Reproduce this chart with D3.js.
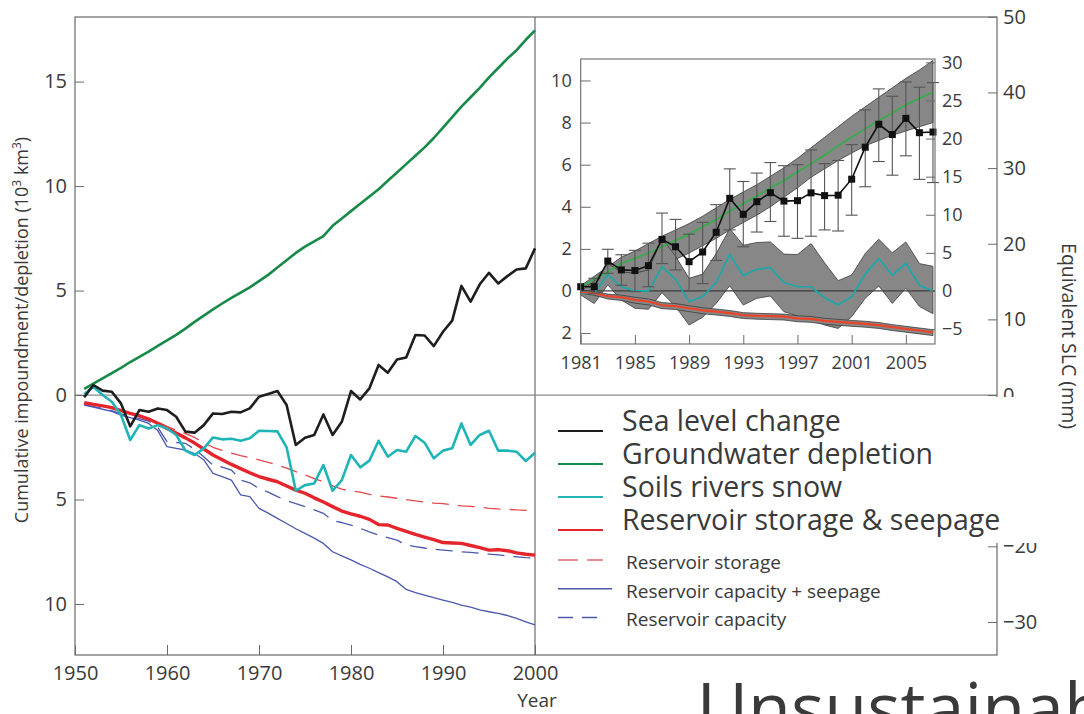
<!DOCTYPE html>
<html>
<head>
<meta charset="utf-8">
<script src="https://cdn.jsdelivr.net/npm/d3@7.9.0/dist/d3.min.js"></script>
<style>
  html, body { margin: 0; padding: 0; background: #fff; }
  svg { display: block; }
  text { font-family: "Open Sans", "Noto Sans", sans-serif; fill: #3a3a3a; }
</style>
</head>
<body>
<div id="chart"></div>
<script>
// ---- main panel data (10^3 km3, 1951-2000; impoundment negative) ----
const mainYears = d3.range(1951, 2001);
const seaLevel = [-0.11, 0.48, 0.21, 0.16, -0.4, -1.5, -0.72, -0.8, -0.64, -0.72,
  -1.04, -1.75, -1.8, -1.44, -0.88, -0.91, -0.8, -0.83, -0.64, -0.08,
  0.05, 0.19, -0.48, -2.39, -2.04, -1.91, -0.93, -1.91, -1.28, 0.19,
  -0.21, 0.32, 1.44, 1.07, 1.7, 1.8, 2.87, 2.85, 2.34, 3.03,
  3.56, 5.22, 4.47, 5.3, 5.85, 5.34, 5.69, 6.01, 6.06, 7.02];
const groundwater = [0.3, 0.55, 0.8, 1.05, 1.3, 1.58, 1.83, 2.08, 2.35, 2.62,
  2.88, 3.18, 3.5, 3.8, 4.1, 4.38, 4.65, 4.9, 5.15, 5.45,
  5.75, 6.1, 6.45, 6.8, 7.1, 7.35, 7.6, 8.1, 8.45, 8.8,
  9.15, 9.5, 9.85, 10.25, 10.65, 11.05, 11.45, 11.85, 12.3, 12.8,
  13.3, 13.8, 14.25, 14.7, 15.2, 15.65, 16.1, 16.5, 17.0, 17.45];
const soilsRivers = [0.05, 0.4, 0.0, -0.32, -0.96, -2.15, -1.44, -1.6, -1.44, -1.6,
  -1.91, -2.66, -2.87, -2.55, -2.03, -2.12, -2.09, -2.19, -2.07, -1.71,
  -1.72, -1.74, -2.5, -4.58, -4.31, -4.23, -3.35, -4.58, -4.07, -2.87,
  -3.46, -3.14, -2.19, -2.95, -2.63, -2.71, -1.96, -2.28, -3.03, -2.66,
  -2.55, -1.36, -2.39, -1.91, -1.71, -2.66, -2.66, -2.71, -3.16, -2.76];
const resStorageSeepage = [-0.37, -0.45, -0.52, -0.6, -0.75, -0.88, -1.0, -1.15, -1.35, -1.6,
  -1.82, -2.05, -2.3, -2.58, -2.87, -3.1, -3.32, -3.52, -3.72, -3.9,
  -4.03, -4.15, -4.35, -4.55, -4.7, -4.92, -5.12, -5.34, -5.55, -5.69,
  -5.8, -5.95, -6.2, -6.22, -6.38, -6.52, -6.67, -6.8, -6.92, -7.06,
  -7.08, -7.1, -7.2, -7.3, -7.42, -7.4, -7.45, -7.55, -7.62, -7.66];
const resStorage = [-0.37, -0.45, -0.52, -0.6, -0.72, -0.85, -0.97, -1.1, -1.3, -1.5,
  -1.68, -1.85, -2.03, -2.28, -2.5, -2.65, -2.78, -2.9, -3.0, -3.1,
  -3.22, -3.35, -3.5, -3.67, -3.82, -4.0, -4.15, -4.35, -4.5, -4.58,
  -4.65, -4.75, -4.83, -4.88, -4.94, -5.0, -5.06, -5.12, -5.17, -5.2,
  -5.25, -5.3, -5.33, -5.37, -5.42, -5.45, -5.47, -5.5, -5.52, -5.53];
const resCapSeepage = [-0.48, -0.58, -0.68, -0.78, -0.96, -1.08, -1.2, -1.36, -1.7, -2.47,
  -2.55, -2.63, -2.8, -3.1, -3.75, -3.9, -4.07, -4.78, -4.86, -5.42,
  -5.65, -5.9, -6.15, -6.4, -6.62, -6.85, -7.1, -7.5, -7.7, -7.89,
  -8.1, -8.29, -8.5, -8.7, -8.93, -9.3, -9.45, -9.57, -9.7, -9.81,
  -9.92, -10.05, -10.15, -10.28, -10.37, -10.45, -10.55, -10.69, -10.85, -11.0];
const resCapacity = [-0.45, -0.55, -0.65, -0.75, -0.9, -1.02, -1.13, -1.25, -1.55, -2.23,
  -2.27, -2.31, -2.6, -2.95, -3.35, -3.45, -3.59, -4.07, -4.2, -4.47,
  -4.65, -4.86, -5.05, -5.2, -5.34, -5.5, -5.66, -6.01, -6.1, -6.22,
  -6.38, -6.55, -6.7, -6.82, -6.94, -7.18, -7.25, -7.32, -7.38, -7.42,
  -7.46, -7.5, -7.53, -7.57, -7.61, -7.65, -7.7, -7.74, -7.78, -7.81];

// ---- inset data (10^3 km3, 1981-2007) ----
const insetYears = d3.range(1981, 2008);
const insSea = [0.2, 0.2, 1.42, 1.0, 0.97, 1.2, 2.45, 2.1, 1.39, 1.85, 2.79, 4.4, 3.64, 4.24,
  4.67, 4.27, 4.29, 4.66, 4.53, 4.55, 5.31, 6.83, 7.92, 7.43, 8.2, 7.52, 7.55];
const insSeaHi = [null, 0.6, 1.98, 1.72, 1.93, 2.27, 3.7, 3.4, 2.7, 3.26, 4.1, 5.8, 5.2, 5.6,
  6.1, 5.95, 6.0, 6.7, 6.05, 6.2, 6.95, 8.6, 9.6, 9.25, 9.93, 9.68, 9.9];
const insSeaLo = [null, -0.1, 0.84, 0.27, -0.03, 0.2, 1.3, 1.0, 0.0, 0.35, 1.45, 2.9, 2.1, 2.8,
  3.3, 2.6, 2.5, 2.6, 2.9, 2.85, 3.6, 4.95, 6.15, 5.5, 6.42, 5.3, 5.15];
const insGw = [0.2, 0.55, 0.9, 1.3, 1.55, 1.8, 2.1, 2.4, 2.7, 3.05, 3.4, 3.8, 4.15, 4.5,
  4.9, 5.25, 5.65, 6.05, 6.45, 6.9, 7.3, 7.7, 8.1, 8.45, 8.85, 9.15, 9.45];
const insGwHi = [0.25, 0.7, 1.15, 1.6, 1.9, 2.25, 2.6, 2.9, 3.2, 3.55, 3.95, 4.35, 4.7, 5.05,
  5.45, 5.85, 6.3, 6.8, 7.3, 7.8, 8.3, 8.75, 9.2, 9.65, 10.1, 10.5, 10.95];
const insGwLo = [0.15, 0.4, 0.7, 0.85, 0.85, 0.95, 1.2, 1.5, 1.8, 2.15, 2.5, 2.9, 3.25, 3.6,
  4.0, 4.45, 4.9, 5.4, 5.8, 6.2, 6.55, 6.9, 7.15, 7.4, 7.6, 7.8, 8.0];
const insSoil = [-0.1, -0.12, 0.78, 0.2, 0.0, 0.0, 1.15, 0.55, -0.5, -0.27, 0.4, 1.74, 0.73, 1.03,
  1.11, 0.4, 0.2, 0.2, -0.32, -0.67, -0.27, 0.8, 1.54, 0.75, 1.31, 0.27, 0.0];
const insSoilHi = [0.0, 0.45, 1.3, 0.9, 0.85, 1.0, 2.5, 1.65, 0.6, 0.8, 1.78, 2.96, 2.17, 2.3,
  2.33, 1.75, 1.73, 2.25, 1.34, 0.49, 0.76, 1.78, 2.46, 1.81, 2.33, 1.3, 1.17];
const insSoilLo = [-0.19, -0.6, 0.29, -0.43, -0.82, -0.87, -0.08, -0.74, -1.62, -1.25, -0.59, 0.25, -0.67, -0.35,
  -0.24, -0.99, -1.19, -1.35, -1.62, -1.78, -1.22, -0.35, 0.24, -0.59, 0.13, -0.74, -1.08];
const insRes = [-0.05, -0.1, -0.25, -0.3, -0.42, -0.5, -0.68, -0.72, -0.82, -0.92, -0.98, -1.05, -1.15, -1.18,
  -1.2, -1.22, -1.3, -1.33, -1.42, -1.47, -1.52, -1.56, -1.62, -1.72, -1.8, -1.88, -1.97];
const insResHi = [0.02, -0.02, -0.15, -0.2, -0.3, -0.38, -0.55, -0.6, -0.7, -0.8, -0.86, -0.93, -1.03, -1.06,
  -1.08, -1.1, -1.18, -1.21, -1.3, -1.35, -1.4, -1.44, -1.5, -1.6, -1.68, -1.76, -1.84];
const insResLo = [-0.12, -0.2, -0.38, -0.45, -0.58, -0.66, -0.84, -0.88, -0.98, -1.08, -1.14, -1.21, -1.31, -1.34,
  -1.36, -1.38, -1.46, -1.49, -1.58, -1.63, -1.68, -1.72, -1.78, -1.88, -1.96, -2.04, -2.12];

// ---- ticks / labels ----
const mainXTicks = [1950, 1960, 1970, 1980, 1990, 2000];
const mainYTicks = [15, 10, 5, 0, -5, -10];
const mainSlcTicks = [50, 40, 30, 20, 10, 0, -20, -30]; // -10 sits under the legend panel
const insetXTicks = [1981, 1985, 1989, 1993, 1997, 2001, 2005];
const insetYTicks = [10, 8, 6, 4, 2, 0, -2];
const insetSlcTicks = [30, 25, 20, 15, 10, 5, 0, -5];
const KM3_PER_MM = 0.362; // 10^3 km3 per mm of sea level

const bigLegend = [
  { label: "Sea level change", color: "#1e1e1e" },
  { label: "Groundwater depletion", color: "#178a48" },
  { label: "Soils rivers snow", color: "#1fb4b6" },
  { label: "Reservoir storage & seepage", color: "#e6242b" }
];
const smallLegend = [
  { label: "Reservoir storage", color: "#e26a6e", dash: "20,9", len: 45 },
  { label: "Reservoir capacity + seepage", color: "#4b58ad", dash: null, len: 54 },
  { label: "Reservoir capacity", color: "#4b58ad", dash: "15,9", len: 45 }
];

const width = 1084, height = 714;
const svg = d3.select("#chart").append("svg")
  .attr("width", width).attr("height", height)
  .attr("viewBox", `0 0 ${width} ${height}`);

const frame = { left: 75, top: 17, right: 997, bottom: 655, split: 535 };
const axisCol = "#6a6a6a";

const x = d3.scaleLinear().domain([1950, 2000]).range([frame.left, frame.split]);
const y = d3.scaleLinear().domain([-12.44, 18.09]).range([frame.bottom, frame.top]);
const ySlc = d3.scaleLinear().domain(y.domain().map(v => v / KM3_PER_MM)).range(y.range());

function styleAxis(g, size) {
  g.select(".domain").remove();
  g.selectAll(".tick line").attr("stroke", axisCol).attr("stroke-width", 1);
  g.selectAll(".tick text").attr("font-size", size).attr("fill", "#3a3a3a")
    .attr("font-family", '"Open Sans", sans-serif');
}

// === Frame ===
const fr = svg.append("g").attr("fill", "none").attr("stroke", axisCol).attr("stroke-width", 1.2);
fr.append("rect")
  .attr("x", frame.left).attr("y", frame.top)
  .attr("width", frame.right - frame.left).attr("height", frame.bottom - frame.top);
fr.append("line").attr("x1", frame.split).attr("x2", frame.split)
  .attr("y1", frame.top).attr("y2", frame.bottom);
fr.append("line").attr("x1", frame.left).attr("x2", frame.right)
  .attr("y1", y(0)).attr("y2", y(0)).attr("stroke", "#8a8a8a");

// === Main axes ===
svg.append("g").attr("transform", `translate(${frame.left},0)`)
  .call(d3.axisLeft(y).tickValues(mainYTicks).tickFormat(d => Math.abs(d)).tickSize(-9).tickPadding(8))
  .call(g => styleAxis(g, 20));
svg.append("g").attr("transform", `translate(0,${frame.bottom})`)
  .call(d3.axisBottom(x).tickValues(mainXTicks).tickFormat(d3.format("d")).tickSize(-10).tickPadding(11))
  .call(g => styleAxis(g, 20));
svg.append("g").attr("transform", `translate(${frame.right},0)`)
  .call(d3.axisRight(ySlc).tickValues(mainSlcTicks).tickSize(-9).tickPadding(6))
  .call(g => styleAxis(g, 20));

svg.append("text")
  .attr("transform", `translate(28,${(frame.top + frame.bottom) / 2 - 6}) rotate(-90)`)
  .attr("text-anchor", "middle").attr("font-size", 18)
  .call(t => {
    t.append("tspan").text("Cumulative impoundment/depletion (10");
    t.append("tspan").attr("font-size", 12).attr("dy", -7).text("3");
    t.append("tspan").attr("dy", 7).text(" km");
    t.append("tspan").attr("font-size", 12).attr("dy", -7).text("3");
    t.append("tspan").attr("dy", 7).text(")");
  });

svg.append("text").attr("x", 537).attr("y", 707)
  .attr("text-anchor", "middle").attr("font-size", 19).text("Year");

svg.append("text")
  .attr("transform", "translate(1062,336) rotate(90)")
  .attr("text-anchor", "middle").attr("font-size", 19.5).text("Equivalent SLC (mm)");

// === Main series ===
const mainLine = d3.line().x((d, i) => x(mainYears[i])).y(d => y(d));
const mainSeries = [
  { data: resCapSeepage, color: "#4b58ad", w: 1.3, dash: null },
  { data: resCapacity, color: "#4b58ad", w: 1.3, dash: "17,9" },
  { data: resStorage, color: "#e2474b", w: 1.3, dash: "17,9" },
  { data: resStorageSeepage, color: "#e6242b", w: 3.4, dash: null },
  { data: soilsRivers, color: "#1fb4b6", w: 2.6, dash: null },
  { data: groundwater, color: "#178a48", w: 2.6, dash: null },
  { data: seaLevel, color: "#1e1e1e", w: 2.6, dash: null }
];
svg.append("g").selectAll("path").data(mainSeries).join("path")
  .attr("d", d => mainLine(d.data))
  .attr("fill", "none")
  .attr("stroke", d => d.color)
  .attr("stroke-width", d => d.w)
  .attr("stroke-dasharray", d => d.dash)
  .attr("stroke-linejoin", "round");

// === Inset ===
const inset = { left: 580.7, right: 935, top: 59, bottom: 344 };
const xIn = d3.scaleLinear().domain([1981, 2007.15]).range([inset.left, inset.right]);
const yIn = d3.scaleLinear().domain([-2.52, 11.02]).range([inset.bottom, inset.top]);
const yInSlc = d3.scaleLinear().domain(yIn.domain().map(v => v / KM3_PER_MM)).range(yIn.range());

svg.append("rect")
  .attr("x", inset.left).attr("y", inset.top)
  .attr("width", inset.right - inset.left).attr("height", inset.bottom - inset.top)
  .attr("fill", "#fff");

const band = d3.area().x((d, i) => xIn(insetYears[i])).y0(d => yIn(d[0])).y1(d => yIn(d[1]));
const bands = [
  insGwLo.map((v, i) => [v, insGwHi[i]]),
  insSoilLo.map((v, i) => [v, insSoilHi[i]]),
  insResLo.map((v, i) => [v, insResHi[i]])
];
svg.append("g").selectAll("path").data(bands).join("path")
  .attr("d", band)
  .attr("fill", "#878787").attr("stroke", "#3c3c3c").attr("stroke-width", 0.8);

svg.append("line")
  .attr("x1", inset.left).attr("x2", inset.right)
  .attr("y1", yIn(0)).attr("y2", yIn(0))
  .attr("stroke", "#3c3c3c").attr("stroke-width", 1.2);

const inLine = d3.line().x((d, i) => xIn(insetYears[i])).y(d => yIn(d));
const insetSeries = [
  { data: insGw, color: "#35ad4b", w: 1.7 },
  { data: insSoil, color: "#1aa9aa", w: 1.7 },
  { data: insRes, color: "#e8452a", w: 2.2 }
];
svg.append("g").selectAll("path").data(insetSeries).join("path")
  .attr("d", d => inLine(d.data))
  .attr("fill", "none").attr("stroke", d => d.color).attr("stroke-width", d => d.w);

// error bars
const errs = insetYears.map((yr, i) => ({ yr, hi: insSeaHi[i], lo: insSeaLo[i] }))
  .filter(d => d.hi !== null);
const eb = svg.append("g").attr("stroke", "#555").attr("stroke-width", 1.1);
eb.selectAll("line.v").data(errs).join("line").attr("class", "v")
  .attr("x1", d => xIn(d.yr)).attr("x2", d => xIn(d.yr))
  .attr("y1", d => yIn(d.hi)).attr("y2", d => yIn(d.lo));
eb.selectAll("line.h").data(errs).join("line").attr("class", "h")
  .attr("x1", d => xIn(d.yr) - 6).attr("x2", d => xIn(d.yr) + 6)
  .attr("y1", d => yIn(d.hi)).attr("y2", d => yIn(d.hi));
eb.selectAll("line.l").data(errs).join("line").attr("class", "l")
  .attr("x1", d => xIn(d.yr) - 6).attr("x2", d => xIn(d.yr) + 6)
  .attr("y1", d => yIn(d.lo)).attr("y2", d => yIn(d.lo));

svg.append("path").attr("d", inLine(insSea))
  .attr("fill", "none").attr("stroke", "#111").attr("stroke-width", 1.6);
svg.append("g").selectAll("rect").data(insSea).join("rect")
  .attr("x", (d, i) => xIn(insetYears[i]) - 3.5)
  .attr("y", d => yIn(d) - 3.5)
  .attr("width", 7).attr("height", 7).attr("fill", "#111");

svg.append("rect")
  .attr("x", inset.left).attr("y", inset.top)
  .attr("width", inset.right - inset.left).attr("height", inset.bottom - inset.top)
  .attr("fill", "none").attr("stroke", axisCol).attr("stroke-width", 1.1);

svg.append("g").attr("transform", `translate(${inset.left},0)`)
  .call(d3.axisLeft(yIn).tickValues(insetYTicks).tickFormat(d => Math.abs(d)).tickSize(-10).tickPadding(9))
  .call(g => styleAxis(g, 18));
svg.append("g").attr("transform", `translate(0,${inset.bottom})`)
  .call(d3.axisBottom(xIn).tickValues(insetXTicks).tickFormat(d3.format("d")).tickSize(-9).tickPadding(12))
  .call(g => styleAxis(g, 18));
svg.append("g").attr("transform", `translate(${inset.right},0)`)
  .call(d3.axisRight(yInSlc).tickValues(insetSlcTicks).tickSize(-9).tickPadding(7))
  .call(g => styleAxis(g, 18));

// === Legends (white panel pasted over the right axis) ===
svg.append("rect").attr("x", 540).attr("y", 397).attr("width", 505).attr("height", 146)
  .attr("fill", "#fff");

const bl = svg.append("g").selectAll("g").data(bigLegend).join("g")
  .attr("transform", (d, i) => `translate(558,${431 + i * 33})`);
bl.append("line").attr("x1", 0).attr("x2", 45).attr("y1", 0).attr("y2", 0)
  .attr("stroke", d => d.color).attr("stroke-width", 1.8);
bl.append("text").attr("x", 64).attr("y", 0)
  .attr("font-family", '"Liberation Sans", Arial, sans-serif')
  .attr("font-size", 28.5).attr("fill", "#333").text(d => d.label);

const sl = svg.append("g").selectAll("g").data(smallLegend).join("g")
  .attr("transform", (d, i) => `translate(558,${569 + i * 28.7})`);
sl.append("line").attr("x1", 0).attr("x2", d => d.len).attr("y1", -9).attr("y2", -9)
  .attr("stroke", d => d.color).attr("stroke-width", 1.5).attr("stroke-dasharray", d => d.dash);
sl.append("text").attr("x", 68).attr("y", 0)
  .attr("font-size", 19).attr("fill", "#333").text(d => d.label);

svg.append("text").attr("x", 697).attr("y", 733)
  .attr("font-family", '"Liberation Sans", Arial, sans-serif')
  .attr("font-size", 70).attr("fill", "#2a2a2a").text("Unsustainab");
</script>
</body>
</html>
